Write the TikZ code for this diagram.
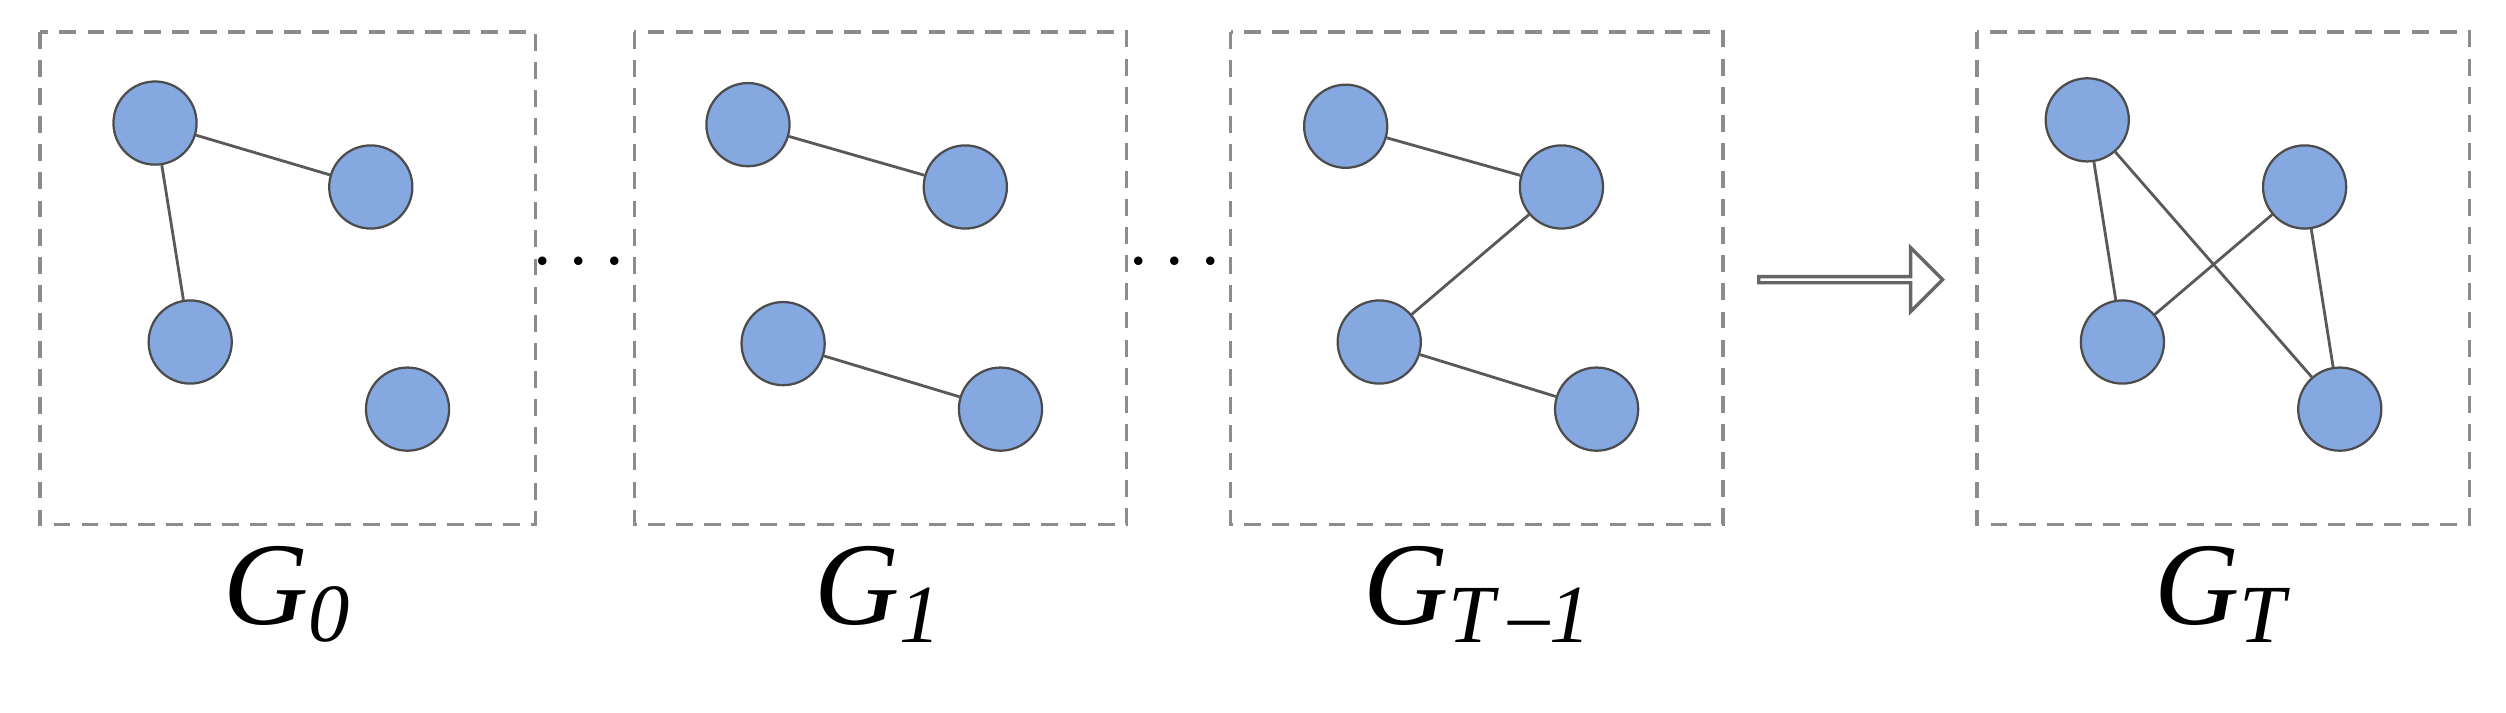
\documentclass[tikz,border=0pt]{standalone}
\usepackage{fontspec}
\setmainfont{Liberation Serif}
\usetikzlibrary{shapes.arrows}
\definecolor{nodeblue}{HTML}{85A8E0}
\tikzset{
  vert/.style={circle, draw=black!70, fill=nodeblue, minimum size=0.52cm, inner sep=0pt},
  edge/.style={draw=black!65, line width=0.5pt},
  frame/.style={draw=black!45, dashed, dash pattern=on 3pt off 2pt, line width=0.6pt},
  glabel/.style={font=\fontsize{21}{24}\selectfont\itshape}
}
\begin{document}
\begin{tikzpicture}[x=0.01cm, y=-0.01cm]
    \useasboundingbox (0,0) rectangle (1568,446);

    % Frames
    \draw[frame] (25,20) rectangle (335,328);
    \draw[frame] (397,20) rectangle (705,328);
    \draw[frame] (770,20) rectangle (1078,328);
    \draw[frame] (1237,20) rectangle (1545,328);

    % G_0
    \node[vert] (a0) at (97,77) {};
    \node[vert] (b0) at (232,117) {};
    \node[vert] (c0) at (119,214) {};
    \node[vert] (d0) at (255,256) {};
    \draw[edge] (a0) -- (b0);
    \draw[edge] (a0) -- (c0);

    % G_1
    \node[vert] (a1) at (468,78) {};
    \node[vert] (b1) at (604,117) {};
    \node[vert] (c1) at (490,215) {};
    \node[vert] (d1) at (626,256) {};
    \draw[edge] (a1) -- (b1);
    \draw[edge] (c1) -- (d1);

    % G_{T-1}
    \node[vert] (a2) at (842,79) {};
    \node[vert] (b2) at (977,117) {};
    \node[vert] (c2) at (863,214) {};
    \node[vert] (d2) at (999,256) {};
    \draw[edge] (a2) -- (b2);
    \draw[edge] (b2) -- (c2);
    \draw[edge] (c2) -- (d2);

    % G_T
    \node[vert] (a3) at (1306,75) {};
    \node[vert] (b3) at (1442,117) {};
    \node[vert] (c3) at (1328,214) {};
    \node[vert] (d3) at (1464,256) {};
    \draw[edge] (a3) -- (c3);
    \draw[edge] (a3) -- (d3);
    \draw[edge] (b3) -- (c3);
    \draw[edge] (b3) -- (d3);

    % Dots and arrow
    \node[font=\Large] (dots1) at (362,165) {$\cdots$};
    \node[font=\Large] (dots2) at (735,165) {$\cdots$};
    \node[single arrow, draw=black!60, fill=white, line width=0.6pt,
          minimum width=0.4cm, minimum height=1.15cm,
          single arrow head extend=0.1cm, inner sep=0pt] (step) at (1157,175) {};

    % Labels
    \node[glabel] (l0) at (180,372) {G\textsubscript{0}};
    \node[glabel] (l1) at (550,372) {G\textsubscript{1}};
    \node[glabel] (l2) at (925,372) {G\textsubscript{T\,\textup{\textendash}1}};
    \node[glabel] (l3) at (1390,372) {G\textsubscript{T}};
\end{tikzpicture}
\end{document}
